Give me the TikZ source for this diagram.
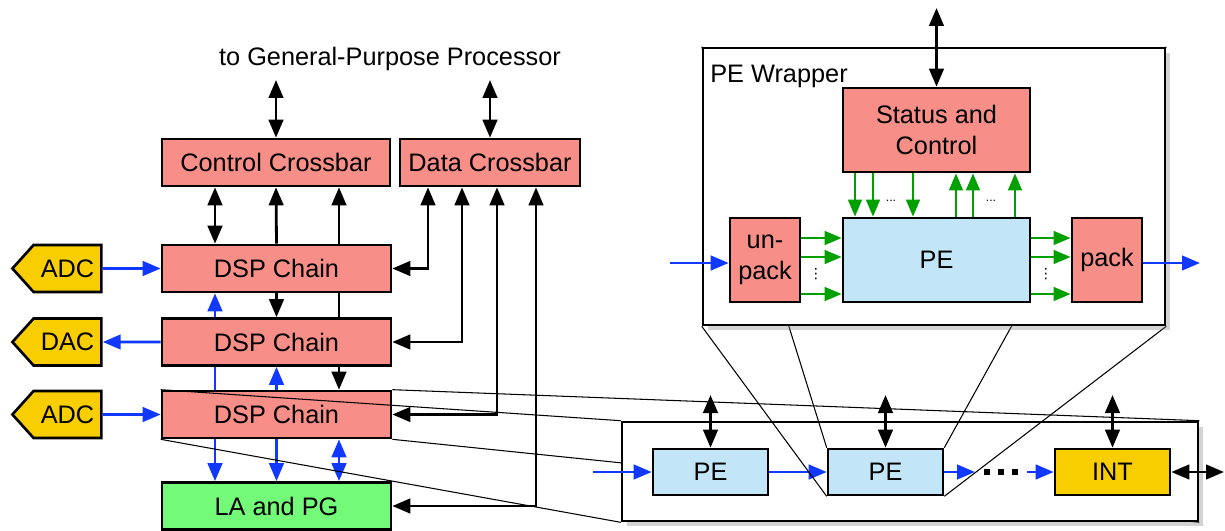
\documentclass[tikz,border=0pt]{standalone}
\usepackage{fontspec}
\setmainfont{Liberation Sans}
\newfontfamily\dotsfont{DejaVu Sans}
\usetikzlibrary{arrows.meta,shapes.symbols,shadows}

\definecolor{boxred}{RGB}{247,143,136}
\definecolor{peblue}{RGB}{194,229,247}
\definecolor{convyellow}{RGB}{248,206,0}
\definecolor{lagreen}{RGB}{115,250,120}
\definecolor{flowblue}{RGB}{16,56,255}
\definecolor{ctrlgreen}{RGB}{0,160,0}

\pgfdeclarelayer{chainlayer}
\pgfdeclarelayer{wraplayer}
\pgfsetlayers{main,chainlayer,wraplayer}

\begin{document}
\begin{tikzpicture}[x=0.02cm,y=-0.02cm,
    font=\fontsize{14.4}{18}\selectfont,
    >={Triangle[length=0.36cm,width=0.29cm]},
    box/.style={draw,line width=1.5pt,minimum height=0.94cm,inner sep=2pt},
    conv/.style={draw,line width=1.5pt,fill=convyellow,signal,signal to=west,
      signal pointer angle=96,minimum width=1.78cm,minimum height=0.94cm,inner sep=2pt},
    outerbox/.style={draw,line width=1.5pt,fill=white,
      drop shadow={opacity=0.35,shadow xshift=0.1cm,shadow yshift=-0.1cm}},
    link/.style={draw,line width=1.6pt},
    flow/.style={draw=flowblue,line width=1.6pt,->},
    ctrl/.style={draw=ctrlgreen,line width=1.5pt,-{Triangle[length=0.34cm,width=0.27cm]}},
    zoomline/.style={draw,line width=0.6pt}]
  \useasboundingbox (0,0) rectangle (1225,531);

  % crossbars, DSP chains and converters
  \node[anchor=base] (GPP) at (390,65) {to General-Purpose Processor};
  \node[box,fill=boxred,minimum width=4.56cm] (CC) at (276,162.5) {Control Crossbar};
  \node[box,fill=boxred,minimum width=3.6cm] (DC) at (490,162.5) {Data Crossbar};
  \node[box,fill=boxred,minimum width=4.58cm] (D1) at (276.5,268.5) {DSP Chain};
  \node[box,fill=boxred,minimum width=4.58cm] (D2) at (276.5,342) {DSP Chain};
  \node[box,fill=boxred,minimum width=4.58cm] (D3) at (276.5,414.5) {DSP Chain};
  \node[box,fill=lagreen,minimum width=4.58cm] (LA) at (276.5,506) {LA and PG};
  \node[conv] (A1) at (67.5,268.5) {ADC};
  \node[conv] (DA) at (67.5,342) {DAC};
  \node[conv] (A2) at (67.5,414.5) {ADC};

  \coordinate (up1) at (276,80);
  \coordinate (up2) at (490,80);
  \draw[link,<->] (CC) -- (up1);
  \draw[link,<->] (DC) -- (up2);

  \draw[flow] (A1) -- (D1);
  \draw[flow] (D2) -- (DA);
  \draw[flow] (A2) -- (D3);

  % control crossbar links
  \draw[link,<->] (215,0 |- CC.south) -- (215,0 |- D1.north);
  \draw[link,->] (D1.north) -- (CC.south);
  \draw[link,->] (339,0 |- D1.north) -- (339,0 |- CC.south);
  \draw[link,->] (D1) -- (D2);
  \draw[link] (339,0 |- D1.south) -- (339,0 |- D2.north);
  \draw[link,->] (339,0 |- D2.south) -- (339,0 |- D3.north);

  % sample paths between the chains
  \draw[flow] (215,0 |- D2.north) -- (215,0 |- D1.south);
  \draw[flow,-] (215,0 |- D3.north) -- (215,0 |- D2.south);
  \draw[flow] (D3) -- (D2);
  \draw[flow] (215,0 |- D3.south) -- (215,0 |- LA.north);
  \draw[flow] (D3) -- (LA);
  \draw[flow,<->] (339,0 |- D3.south) -- (339,0 |- LA.north);

  % data crossbar links
  \draw[link,<->] (428,0 |- DC.south) |- (D1.east);
  \draw[link,<->] (462,0 |- DC.south) |- (D2.east);
  \draw[link,<->] (497,0 |- DC.south) |- (D3.east);
  \draw[link,<->] (536,0 |- DC.south) |- (LA.east);

  % chain of processing elements
  \begin{pgfonlayer}{chainlayer}
    \node[outerbox,minimum width=11.52cm,minimum height=1.98cm] (CH) at (910,471.5) {};
    \node[box,fill=peblue,minimum width=2.3cm,minimum height=0.92cm] (PE1) at (710.5,472) {PE};
    \node[box,fill=peblue,minimum width=2.3cm,minimum height=0.92cm] (PE2) at (885.5,472) {PE};
    \node[box,fill=convyellow,minimum width=2.3cm,minimum height=0.92cm] (INT) at (1112.5,472) {INT};
    \coordinate (chin) at (593,472);
    \coordinate (gapA) at (975,472);
    \coordinate (gapB) at (984,472);
    \coordinate (gapC) at (1018,472);
    \coordinate (gapD) at (1027,472);
    \coordinate (chout) at (1224,472);
    \draw[flow] (chin) -- (PE1);
    \draw[flow] (PE1) -- (PE2);
    \draw[flow] (PE2) -- (gapA);
    \draw[line width=0.12cm,dash pattern=on 0.12cm off 0.16cm] (gapB) -- (gapC);
    \draw[flow] (gapD) -- (INT);
    \draw[link,<->] (INT) -- (chout);
    \foreach \n/\x in {PE1/710.5,PE2/885.5,INT/1112.5} {
      \coordinate (bus-\n) at (\x,395);
      \draw[link,<->] (\n) -- (bus-\n);
    }
  \end{pgfonlayer}

  % wrapper around one processing element
  \begin{pgfonlayer}{wraplayer}
    \node[outerbox,minimum width=9.24cm,minimum height=5.54cm] (W) at (934,186.5) {};
    \node[anchor=base west,inner sep=0pt] (WL) at (710,82) {PE Wrapper};
    \node[box,fill=boxred,minimum width=3.74cm,minimum height=1.68cm,align=center] (SC) at (936.5,130) {Status and\\Control};
    \node[box,fill=peblue,minimum width=3.74cm,minimum height=1.68cm] (PE) at (936.5,260) {PE};
    \node[box,fill=boxred,minimum width=1.4cm,minimum height=1.68cm,align=center] (UP) at (765,260) {un-\\pack};
    \node[box,fill=boxred,minimum width=1.4cm,minimum height=1.68cm] (PK) at (1107,260) {pack};
    \coordinate (wtop) at (936.5,8);
    \draw[link,<->] (SC) -- (wtop);
    \foreach \x in {855,873,913}
      \draw[ctrl] (\x,0 |- SC.south) -- (\x,0 |- PE.north);
    \foreach \x in {956,973,1015}
      \draw[ctrl] (\x,0 |- PE.north) -- (\x,0 |- SC.south);
    \foreach \y in {238,257,294} {
      \draw[ctrl] (UP.east |- 0,\y) -- (PE.west |- 0,\y);
      \draw[ctrl] (PE.east |- 0,\y) -- (PK.west |- 0,\y);
    }
    \node[font=\scriptsize] (hdots1) at (891,201) {...};
    \node[font=\scriptsize] (hdots2) at (991,201) {...};
    \node[font=\dotsfont\footnotesize,inner sep=0pt] (vdots1) at (816,274) {⋮};
    \node[font=\dotsfont\footnotesize,inner sep=0pt] (vdots2) at (1046,274) {⋮};
    \coordinate (win) at (670,263);
    \coordinate (wout) at (1200,263);
    \draw[flow] (win) -- (win -| UP.west);
    \draw[flow] (wout -| PK.east) -- (wout);
  \end{pgfonlayer}

  % magnification lines
  \draw[zoomline] (D3.north west) -- (CH.north west);
  \draw[zoomline] (D3.north east) -- (CH.north east);
  \draw[zoomline] (D3.south west) -- (CH.south west);
  \draw[zoomline] (D3.south east) -- (CH.south east);
  \begin{pgfonlayer}{chainlayer}
    \draw[zoomline] (W.north west) -- (PE2.north west);
    \draw[zoomline] (W.north east) -- (PE2.north east);
    \draw[zoomline] (W.south west) -- (PE2.south west);
    \draw[zoomline] (W.south east) -- (PE2.south east);
  \end{pgfonlayer}
\end{tikzpicture}
\end{document}
